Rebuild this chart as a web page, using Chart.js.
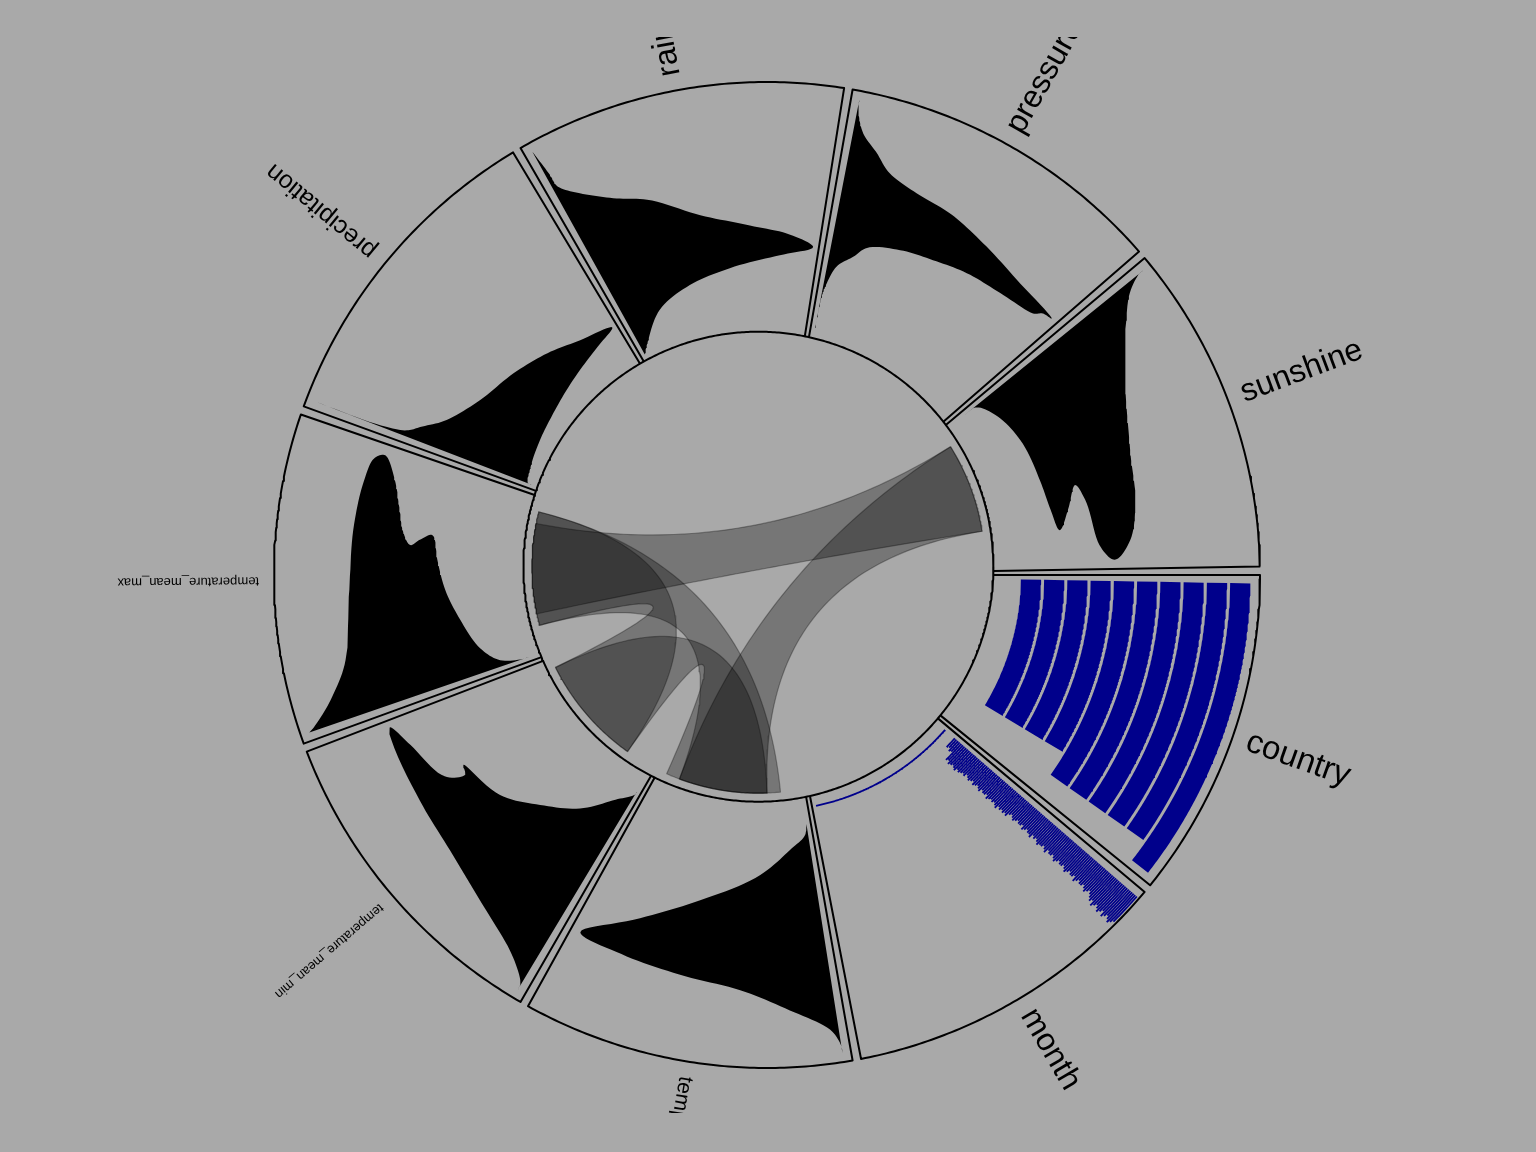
<!DOCTYPE html>
<html><head><meta charset="utf-8">
<script src="https://cdn.jsdelivr.net/npm/chart.js@4.4.1/dist/chart.umd.min.js"></script>
<style>html,body{margin:0;padding:0;background:#a9a9a9;}#wrap{width:1536px;height:1152px;}</style>
</head><body><div id="wrap"><canvas id="c" width="1536" height="1152"></canvas></div>
<script>
// ---------------- DATA ----------------
const sectorNames = ['country','month','temp','temperature_mean_min','temperature_mean_max','precipitation','rain','pressure','sunshine'];

// bar tracks (counts per category)
const countryCounts = [21,21,21,21,24,24,24,24,24,26];
const monthCounts = [120, 0,0,0,0,0,
  9,8,10,9,
  16,15,17,16,15,16,17,15,16,
  15,14,15,13,14,15,14,13,15,14,13,14,15,13,14,14,13,15,14,13,14,13,14,15,13,14,13,14,13,14,
  12,11,12,13,12,11,12,12,11,13,12,11,12,12,13,11,12,11,12,13,12,12,11,12,13,11,12,12,11,12,13,12,11,12,12,11,12,13,12,11,12,12,11,13,12,11,12,12,11,12,13,12,11,12,
  13,14,13,15,14,13,14,15,14,13,15,14,13,14,15,14,13];

// density tracks: variable value (0-100 of range) and relative density (0-1)
const tempValue   = [0,4.7,10.3,20.7,34.5,49.1,65.1,66.4,67.7,70.7,79.3,89.2,97.4,100];
const tempDensity = [0,0.019,0.114,0.278,0.557,0.792,0.989,0.811,0.578,0.343,0.162,0.03,0,0];
const tminValue   = [0,1.7,8.2,20.3,30.6,40.5,45.7,47.4,55.2,61.6,66.8,69.8,72.4,78.4,87.5,96.6,100];
const tminDensity = [0,0,0.081,0.208,0.368,0.527,0.73,0.69,0.73,0.905,1.0,0.703,0.486,0.281,0.092,0.005,0];
const tmaxValue   = [0,2.2,12.1,19.0,25.0,30.2,33.6,36.6,41.8,45.7,49.6,52.2,56.9,63.8,68.1,69.8,70.7,71.6,76.7,87.1,96.6,100];
const tmaxDensity = [0,0,0.035,0.127,0.289,0.441,0.584,0.697,0.670,0.643,0.703,0.784,0.9,0.984,0.959,0.865,0.703,0.459,0.205,0.081,0.016,0];
const precipValue   = [0,1.7,3.4,5.2,6.9,9.9,13.8,17.2,20.7,25.9,31.0,36.2,44.8,53.9,58.6,69.8,100];
const precipDensity = [0,0,0.095,0.262,0.435,0.651,0.873,1.0,0.824,0.657,0.473,0.281,0.130,0.057,0.024,0.005,0];
const rainValue   = [0,4.7,14.7,20.7,24.6,29.3,34.1,38.4,42.2,49.1,61.2,66.8,74.6,81.5,87.5,100];
const rainDensity = [0,0.057,0.189,0.381,0.597,0.846,1.0,0.889,0.708,0.5,0.305,0.184,0.078,0.019,0.014,0];
const pressureValue   = [0,14.2,18.1,27.6,33.6,38.8,42.7,44.8,47.4,49.1,52.2,55.2,56.5,57.8,62.1,66.0,68.1,72.4,79.3,86.2,95.7,100];
const pressureDensity = [0,0.003,0.011,0.046,0.114,0.162,0.305,0.454,0.608,0.773,0.932,0.96,1.0,0.81,0.595,0.432,0.281,0.162,0.097,0.035,0.003,0];
const sunshineValue   = [0,6.5,11.6,15.1,15.9,16.8,19.0,24.1,29.7,32.3,35.3,41.4,48.7,53.4,56.9,67.2,87.1,97.8,100];
const sunshineDensity = [0,0.005,0.108,0.297,0.541,0.703,0.819,0.724,0.614,0.695,0.916,0.986,0.905,0.743,0.541,0.281,0.046,0,0];

// links (sector x-range 0-39 at each end)
const linkFrom      = ['sunshine','sunshine','temperature_mean_max','temperature_mean_max','temperature_mean_min'];
const linkTo        = ['temperature_mean_max','temp','temperature_mean_min','temp','temp'];
const linkFromStart = [8, 8, 5, 5, 5.3];
const linkFromEnd   = [31, 31, 34, 34, 33.6];
const linkToStart   = [8, 7.8, 5.3, 4.4, 7.8];
const linkToEnd     = [31, 30.4, 33.6, 30.4, 33.9];

// ---------------- LAYOUT / STYLE ----------------
const L = {rOut:493, circR:235, circOff:{x:-8.6,y:8.3}, step:40, span:39, pad:1, dataSpan:37,
  densLo:252, densHi:484, countryLo:252.4, countryHi:485, monthLo:236, monthHi:490,
  linkR:226.5, labelR:508, clipHalf:538};
const labelSize = {country:33, month:32, temp:21, temperature_mean_min:13, temperature_mean_max:13,
  precipitation:25, rain:32, pressure:32, sunshine:32};
const BAR_COLOR = '#00008b';

const D2R = Math.PI/180;
function polar(r, a){ return {x: r*Math.cos(a*D2R), y: -r*Math.sin(a*D2R)}; }
function rIn(a){
  const dx = -L.circOff.x, dy = L.circOff.y;
  const du = dx*Math.cos(a*D2R) + dy*Math.sin(a*D2R);
  return -du + Math.sqrt(du*du - (dx*dx+dy*dy) + L.circR*L.circR);
}
function sectorStart(name){ return sectorNames.indexOf(name)*L.step; }

const datasets = [];
function add(pts, o){ datasets.push(Object.assign({data:pts, showLine:true, pointRadius:0, borderWidth:0,
  borderColor:'rgba(0,0,0,0)', fill:false, borderJoinStyle:'round'}, o)); }

// sector outlines
sectorNames.forEach(n=>{
  const s = sectorStart(n), e = s + L.span; const pts=[];
  pts.push(polar(rIn(s), s));
  for(let a=s; a<=e+1e-9; a+=0.5) pts.push(polar(L.rOut, a));
  pts.push(polar(rIn(e), e));
  add(pts, {borderColor:'#000', borderWidth:2, order:0});
});
{ const pts=[]; for(let a=0;a<=360;a+=0.5){ pts.push({x:L.circOff.x+L.circR*Math.cos(a*D2R), y:L.circOff.y-L.circR*Math.sin(a*D2R)}); }
  add(pts,{borderColor:'#000', borderWidth:2, order:0}); }

// centripetal Catmull-Rom through (r, angle) control values, for a smooth outline
function smoothPolar(R, A, sub){
  const K = 6;
  const P = R.map((r,i)=>[r, A[i]*K]);
  const n = P.length, out=[];
  const ext = i => i<0 ? [2*P[0][0]-P[1][0], 2*P[0][1]-P[1][1]] : i>=n ? [2*P[n-1][0]-P[n-2][0], 2*P[n-1][1]-P[n-2][1]] : P[i];
  const dist = (a,b)=>Math.max(1e-3, Math.pow(Math.hypot(b[0]-a[0], b[1]-a[1]), 0.5));
  const lerp = (p,q,ta,tb,t)=>[p[0]*(tb-t)/(tb-ta)+q[0]*(t-ta)/(tb-ta), p[1]*(tb-t)/(tb-ta)+q[1]*(t-ta)/(tb-ta)];
  for(let i=0;i<n-1;i++){
    const p0=ext(i-1), p1=P[i], p2=P[i+1], p3=ext(i+2);
    const t0=0, t1=t0+dist(p0,p1), t2=t1+dist(p1,p2), t3=t2+dist(p2,p3);
    for(let s=0;s<sub;s++){
      const t = t1+(t2-t1)*s/sub;
      const a1=lerp(p0,p1,t0,t1,t), a2=lerp(p1,p2,t1,t2,t), a3=lerp(p2,p3,t2,t3,t);
      const b1=lerp(a1,a2,t0,t2,t), b2=lerp(a2,a3,t1,t3,t);
      const c=lerp(b1,b2,t1,t2,t); out.push([c[0], c[1]/K]);
    }
  }
  out.push([P[n-1][0], P[n-1][1]/K]);
  return out;
}

// density shapes
function densityShape(name, vals, dens){
  const a0 = sectorStart(name) + L.pad;
  const R = vals.map(v=>L.densLo + v/100*(L.densHi-L.densLo));
  const A = dens.map(d=>a0 + d*L.dataSpan);
  const pts = smoothPolar(R, A, 10).map(([r,a])=>polar(r, Math.max(a0, a)));
  pts.push(polar(L.densLo, a0));
  add(pts, {fill:'shape', backgroundColor:'#000', order:1});
}
densityShape('temp', tempValue, tempDensity);
densityShape('temperature_mean_min', tminValue, tminDensity);
densityShape('temperature_mean_max', tmaxValue, tmaxDensity);
densityShape('precipitation', precipValue, precipDensity);
densityShape('rain', rainValue, rainDensity);
densityShape('pressure', pressureValue, pressureDensity);
densityShape('sunshine', sunshineValue, sunshineDensity);

// bar tracks
function barShape(name, r1, r2, frac){
  const a0 = sectorStart(name) + L.pad, a1 = a0 + frac*L.dataSpan; const pts=[];
  const n = Math.max(2, Math.ceil((a1-a0)/0.25));
  for(let i=0;i<=n;i++) pts.push(polar(r1, a0+(a1-a0)*i/n));
  for(let i=n;i>=0;i--) pts.push(polar(r2, a0+(a1-a0)*i/n));
  add(pts, {fill:'shape', backgroundColor:BAR_COLOR, order:1});
}
{ const maxC = Math.max(...countryCounts), n = countryCounts.length, pitch=(L.countryHi-L.countryLo)/n;
  countryCounts.forEach((c,i)=>{ const mid = L.countryLo + pitch*(i+0.5); barShape('country', mid-pitch*0.437, mid+pitch*0.437, c/maxC); }); }
{ const maxC = Math.max(...monthCounts), n = monthCounts.length, pitch=(L.monthHi-L.monthLo)/(n-1);
  monthCounts.forEach((c,i)=>{ if(c<=0) return; const mid = L.monthLo + pitch*i; barShape('month', mid-pitch*0.42, mid+pitch*0.42, c/maxC); }); }

// links
function linkPt(a){ return {x:L.circOff.x+L.linkR*Math.cos(a*D2R), y:L.circOff.y-L.linkR*Math.sin(a*D2R)}; }
function arcPts(a1,a2,pts){ const n=Math.max(2,Math.ceil(Math.abs(a2-a1)/0.5)); for(let i=0;i<=n;i++) pts.push(linkPt(a1+(a2-a1)*i/n)); }
function bez(p0,p2,pts){ const c=L.circOff; for(let i=1;i<60;i++){ const t=i/60, u=1-t;
  pts.push({x:u*u*p0.x+2*u*t*c.x+t*t*p2.x, y:u*u*p0.y+2*u*t*c.y+t*t*p2.y}); } }
linkFrom.forEach((f,i)=>{
  const a1 = sectorStart(f)+linkFromStart[i], a2 = sectorStart(f)+linkFromEnd[i];
  const b1 = sectorStart(linkTo[i])+linkToStart[i], b2 = sectorStart(linkTo[i])+linkToEnd[i];
  const pts=[];
  arcPts(a1,a2,pts); bez(linkPt(a2), linkPt(b1), pts);
  arcPts(b1,b2,pts); bez(linkPt(b2), linkPt(a1), pts);
  pts.push(linkPt(a1));
  add(pts, {fill:'shape', backgroundColor:'rgba(0,0,0,0.3)', borderColor:'rgba(0,0,0,0.3)', borderWidth:1.2, order:2});
});

// ---------------- CHART ----------------
const bgPlugin = {id:'bg', beforeDraw(chart){ const c=chart.ctx; c.save(); c.fillStyle='#a9a9a9'; c.fillRect(0,0,chart.width,chart.height); c.restore(); }};
const labelPlugin = {id:'labels', afterDatasetsDraw(chart){
  const c=chart.ctx, xs=chart.scales.x, ys=chart.scales.y;
  const cx=xs.getPixelForValue(0), cy=ys.getPixelForValue(0);
  c.save(); c.beginPath(); c.rect(0, ys.getPixelForValue(L.clipHalf), chart.width, ys.getPixelForValue(-L.clipHalf)-ys.getPixelForValue(L.clipHalf)); c.clip();
  sectorNames.forEach((n,k)=>{
    const a = (k*L.step + L.span/2)*D2R;
    const fs = labelSize[n];
    c.save(); c.translate(cx,cy); c.rotate(a);
    c.font = fs+'px "Liberation Sans", Arial, sans-serif';
    c.fillStyle='#000'; c.textAlign='left'; c.textBaseline='alphabetic';
    c.fillText(n, L.labelR, fs*0.17); c.restore();
  });
  c.restore(); }};

new Chart(document.getElementById('c'), {
  type:'scatter',
  data:{datasets},
  options:{responsive:false, animation:false, events:[],
    plugins:{legend:{display:false}, tooltip:{enabled:false}},
    layout:{padding:0},
    elements:{point:{radius:0}, line:{tension:0}},
    scales:{x:{type:'linear', min:-767, max:769, display:false}, y:{type:'linear', min:-577, max:575, display:false}}},
  plugins:[bgPlugin, labelPlugin]
});
</script></body></html>
